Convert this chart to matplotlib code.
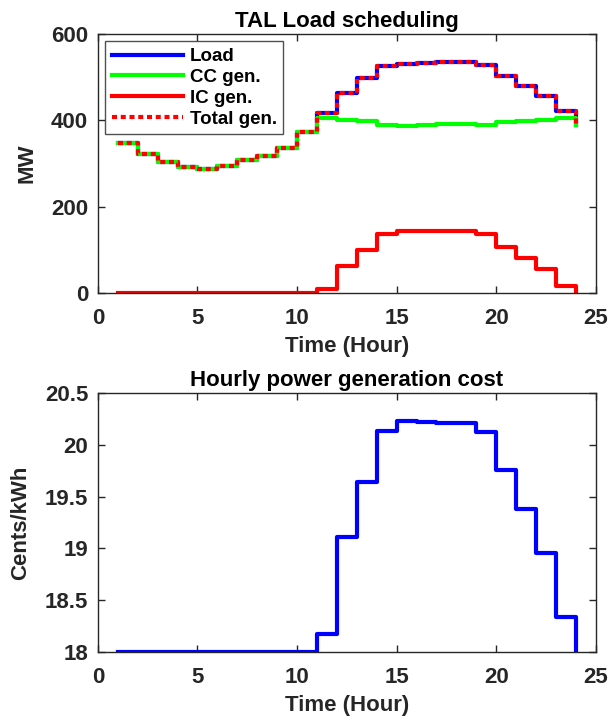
import numpy as np
import matplotlib
matplotlib.use("Agg")
import matplotlib.pyplot as plt
from matplotlib.ticker import FormatStrFormatter

hours = list(range(1, 25))
load = [348, 322, 303, 292, 288, 293, 308, 317, 337, 374, 416, 463,
        499, 525, 531, 533, 536, 536, 527, 502, 479, 456, 422, 390]
cc_gen = [348, 322, 303, 292, 288, 293, 308, 317, 337, 374, 406, 401,
          399, 388, 387, 389, 392, 392, 390, 395, 399, 401, 405, 390]
ic_gen = [0, 0, 0, 0, 0, 0, 0, 0, 0, 0, 10, 62,
          100, 137, 144, 144, 144, 144, 137, 107, 80, 55, 17, 0]
cost = [18.0, 18.0, 18.0, 18.0, 18.0, 18.0, 18.0, 18.0, 18.0, 18.0, 18.17, 19.11,
        19.64, 20.13, 20.23, 20.22, 20.21, 20.21, 20.12, 19.76, 19.38, 18.96, 18.34, 18.0]

total_gen = [c + i for c, i in zip(cc_gen, ic_gen)]

plt.rcParams["font.family"] = ["Liberation Sans", "DejaVu Sans"]
plt.rcParams["font.weight"] = "bold"
plt.rcParams["axes.labelweight"] = "bold"
plt.rcParams["axes.titleweight"] = "bold"

dark = "#262626"
fs = 16

fig = plt.figure(figsize=(6.08, 7.17), dpi=100)
ax1 = fig.add_axes([0.161, 0.5914, 0.819, 0.3612])
ax2 = fig.add_axes([0.161, 0.0907, 0.819, 0.3612])

lw = 3
ax1.plot(hours, load, drawstyle="steps-post", color="#0000ff", lw=lw, label="Load")
ax1.plot(hours, cc_gen, drawstyle="steps-post", color="#00ff00", lw=lw, label="CC gen.")
ax1.plot(hours, ic_gen, drawstyle="steps-post", color="#ff0000", lw=lw, label="IC gen.")
ax1.plot(hours, total_gen, drawstyle="steps-post", color="#ff0000", lw=lw,
         linestyle=(0, (1.2, 0.9)), label="Total gen.")
ax1.set_xlim(0, 25)
ax1.set_ylim(0, 600)
ax1.set_yticks([0, 200, 400, 600])
ax1.set_title("TAL Load scheduling", fontsize=fs, color="black", pad=5)
ax1.set_ylabel("MW", fontsize=fs, color=dark, labelpad=10)
ax1.set_xlabel("Time (Hour)", fontsize=fs, color=dark, labelpad=5)
leg = ax1.legend(loc="upper left", fontsize=13.5, handlelength=3.8, frameon=True,
                 fancybox=False, edgecolor="#262626", borderpad=0.35,
                 labelspacing=0.2, handletextpad=0.35, borderaxespad=0.4)
leg.get_frame().set_linewidth(1.0)
for t in leg.get_texts():
    t.set_fontweight("bold")

ax2.plot(hours, cost, drawstyle="steps-post", color="#0000ff", lw=lw)
ax2.set_xlim(0, 25)
ax2.set_ylim(18, 20.5)
ax2.set_yticks([18, 18.5, 19, 19.5, 20, 20.5])
ax2.yaxis.set_major_formatter(FormatStrFormatter("%g"))
ax2.set_title("Hourly power generation cost", fontsize=fs, color="black", pad=5)
ax2.set_ylabel("Cents/kWh", fontsize=fs, color=dark, labelpad=10)
ax2.set_xlabel("Time (Hour)", fontsize=fs, color=dark, labelpad=5)

for ax in (ax1, ax2):
    ax.set_xticks([0, 5, 10, 15, 20, 25])
    ax.tick_params(direction="in", top=True, right=True, length=5, width=1,
                   color=dark, labelcolor=dark, labelsize=fs)
    ax.tick_params(axis="x", pad=11)
    ax.tick_params(axis="y", pad=7)
    for s in ax.spines.values():
        s.set_color(dark)
        s.set_linewidth(1.0)

fig.savefig("out.png", dpi=100)
